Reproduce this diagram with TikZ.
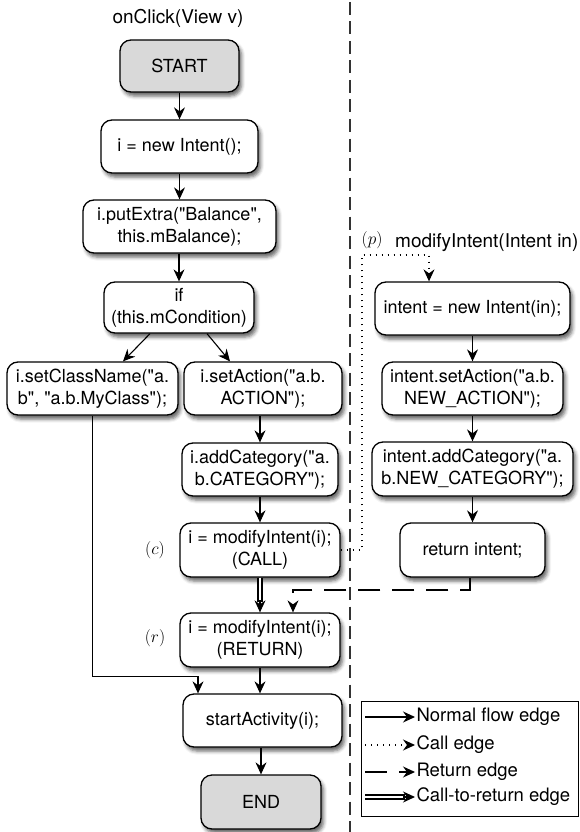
\documentclass[tikz,border=0pt]{standalone}
\usepackage{fontspec}
\setmainfont{TeX Gyre Heros}[Ligatures=TeXOff]
\usetikzlibrary{arrows.meta, shadows.blur}

\tikzset{
	block/.style={draw, line width=1.3pt, rounded corners=11pt, fill=white, align=center,
		inner sep=0pt, font=\fontsize{18}{22}\selectfont,
		blur shadow={shadow xshift=2.5pt, shadow yshift=-4pt, shadow blur radius=3.5pt, shadow opacity=60}},
	terminal/.style={block, fill=gray!30},
	flow/.style={line width=1.1pt, -{Stealth[length=12pt,width=11pt,inset=4pt]}},
	calledge/.style={flow, dash pattern=on 1pt off 5pt},
	retedge/.style={flow, dash pattern=on 22pt off 12pt},
	ctrline/.style={line width=1.2pt, double, double distance=2.8pt, shorten >=10pt},
	heading/.style={font=\fontsize{19}{22}\selectfont, inner sep=1pt},
	tag/.style={font=\fontsize{17}{20}\selectfont, inner sep=0pt},
	legendtext/.style={font=\fontsize{18.5}{22}\selectfont, inner sep=1pt, anchor=west},
}

\begin{document}
\begin{tikzpicture}[x=1pt, y=-1pt]
	\useasboundingbox (0,0) rectangle (579,832);
	
	% SEPARATOR
	\draw[line width=2pt, black!80, dash pattern=on 13pt off 6.5pt] (350,2) -- (350,832);
	
	% CALLER: onClick
	\node[heading] (maintitle) at (178,18) {onClick(View v)};
	\node[terminal, minimum width=119pt, minimum height=52pt] (start) at (179.5,66) {START};
	\node[block, minimum width=157pt, minimum height=53pt] (newi) at (179.5,146.5) {i = new Intent();};
	\node[block, minimum width=193pt, minimum height=53pt] (putextra) at (179.5,226.5) {i.putExtra("Balance",\\this.mBalance);};
	\node[block, minimum width=150pt, minimum height=51pt] (cond) at (179,307.5) {if\\(this.mCondition)};
	\node[block, minimum width=171pt, minimum height=53pt] (setclass) at (92.5,388.5) {i.setClassName("a.\\b", "a.b.MyClass");};
	\node[block, minimum width=158pt, minimum height=53pt] (setaction) at (263,388.5) {i.setAction("a.b.\\ACTION");};
	\node[block, minimum width=156pt, minimum height=53pt] (addcat) at (260,469.5) {i.addCategory("a.\\b.CATEGORY");};
	\node[block, minimum width=160pt, minimum height=54pt] (call) at (260,550) {i = modifyIntent(i);\\(CALL)};
	\node[block, minimum width=160pt, minimum height=54pt] (ret) at (260,640) {i = modifyIntent(i);\\(RETURN)};
	\node[block, minimum width=159pt, minimum height=53pt] (startact) at (262.5,720.5) {startActivity(i);};
	\node[terminal, minimum width=120pt, minimum height=54pt] (finish) at (261,802) {END};
	\node[tag] (ctag) at (155,550) {$(c)$};
	\node[tag] (rtag) at (155,638) {$(r)$};
	
	% CALLEE: modifyIntent
	\node[tag] (ptag) at (372,240) {$(p)$};
	\node[heading, anchor=west] (subtitle) at (394,243) {modifyIntent(Intent in)};
	\node[block, minimum width=195pt, minimum height=53pt] (newin) at (472.5,308.5) {intent = new Intent(in);};
	\node[block, minimum width=181pt, minimum height=53pt] (setaction2) at (472.5,388.5) {intent.setAction("a.b.\\NEW\_ACTION");};
	\node[block, minimum width=201pt, minimum height=54pt] (addcat2) at (472.5,469) {intent.addCategory("a.\\b.NEW\_CATEGORY");};
	\node[block, minimum width=145pt, minimum height=54pt] (retint) at (472.5,550) {return intent;};
	
	% NORMAL FLOW EDGES
	\draw[flow] (start) -- (newi);
	\draw[flow] (newi) -- (putextra);
	\draw[flow] (putextra.south -| cond.north) -- (cond.north);
	\draw[flow] ([xshift=-29pt]cond.south) -- ([xshift=30.5pt]setclass.north);
	\draw[flow] ([xshift=28pt]cond.south) -- ([xshift=-33pt]setaction.north);
	\draw[flow] (setaction.south -| addcat.north) -- (addcat.north);
	\draw[flow] (addcat) -- (call);
	\draw[flow] (ret.south) -- (ret.south |- startact.north);
	\draw[flow] (startact.south -| finish.north) -- (finish.north);
	\draw[flow] (setclass.south) |- ([xshift=-64.5pt, yshift=17pt]startact.north) -- ([xshift=-64.5pt]startact.north);
	\draw[flow] (newin) -- (setaction2);
	\draw[flow] (setaction2) -- (addcat2);
	\draw[flow] (addcat2) -- (retint);
	
	% CALL, RETURN AND CALL-TO-RETURN EDGES
	\coordinate (callbend) at (362,255);
	\draw[calledge] (call.east) -| (callbend) -| ([xshift=-43.5pt]newin.north);
	\coordinate (retbend) at (293,590);
	\draw[retedge] ([xshift=-2.5pt]retint.south) |- (retbend) -- (retbend |- ret.north);
	\draw[ctrline] (call) -- (ret);
	\draw[flow] ([yshift=12pt]ret.north) -- (ret.north);
	
	% LEGEND
	\node[draw, line width=1pt, minimum width=217pt, minimum height=115pt] (legend) at (469.5,758.5) {};
	\coordinate (normA) at (365,717); \coordinate (normB) at (415,717);
	\coordinate (callA) at (365,745); \coordinate (callB) at (415,745);
	\coordinate (retA) at (365,772); \coordinate (retB) at (415,772);
	\coordinate (ctrA) at (365,797); \coordinate (ctrB) at (415,797);
	\draw[flow] (normA) -- (normB) node[legendtext] {Normal flow edge};
	\draw[calledge] (callA) -- (callB) node[legendtext] {Call edge};
	\draw[retedge] (retA) -- (retB) node[legendtext] {Return edge};
	\draw[ctrline] (ctrA) -- (ctrB);
	\draw[flow] ([xshift=-12pt]ctrB) -- (ctrB) node[legendtext] {Call-to-return edge};
\end{tikzpicture}
\end{document}
